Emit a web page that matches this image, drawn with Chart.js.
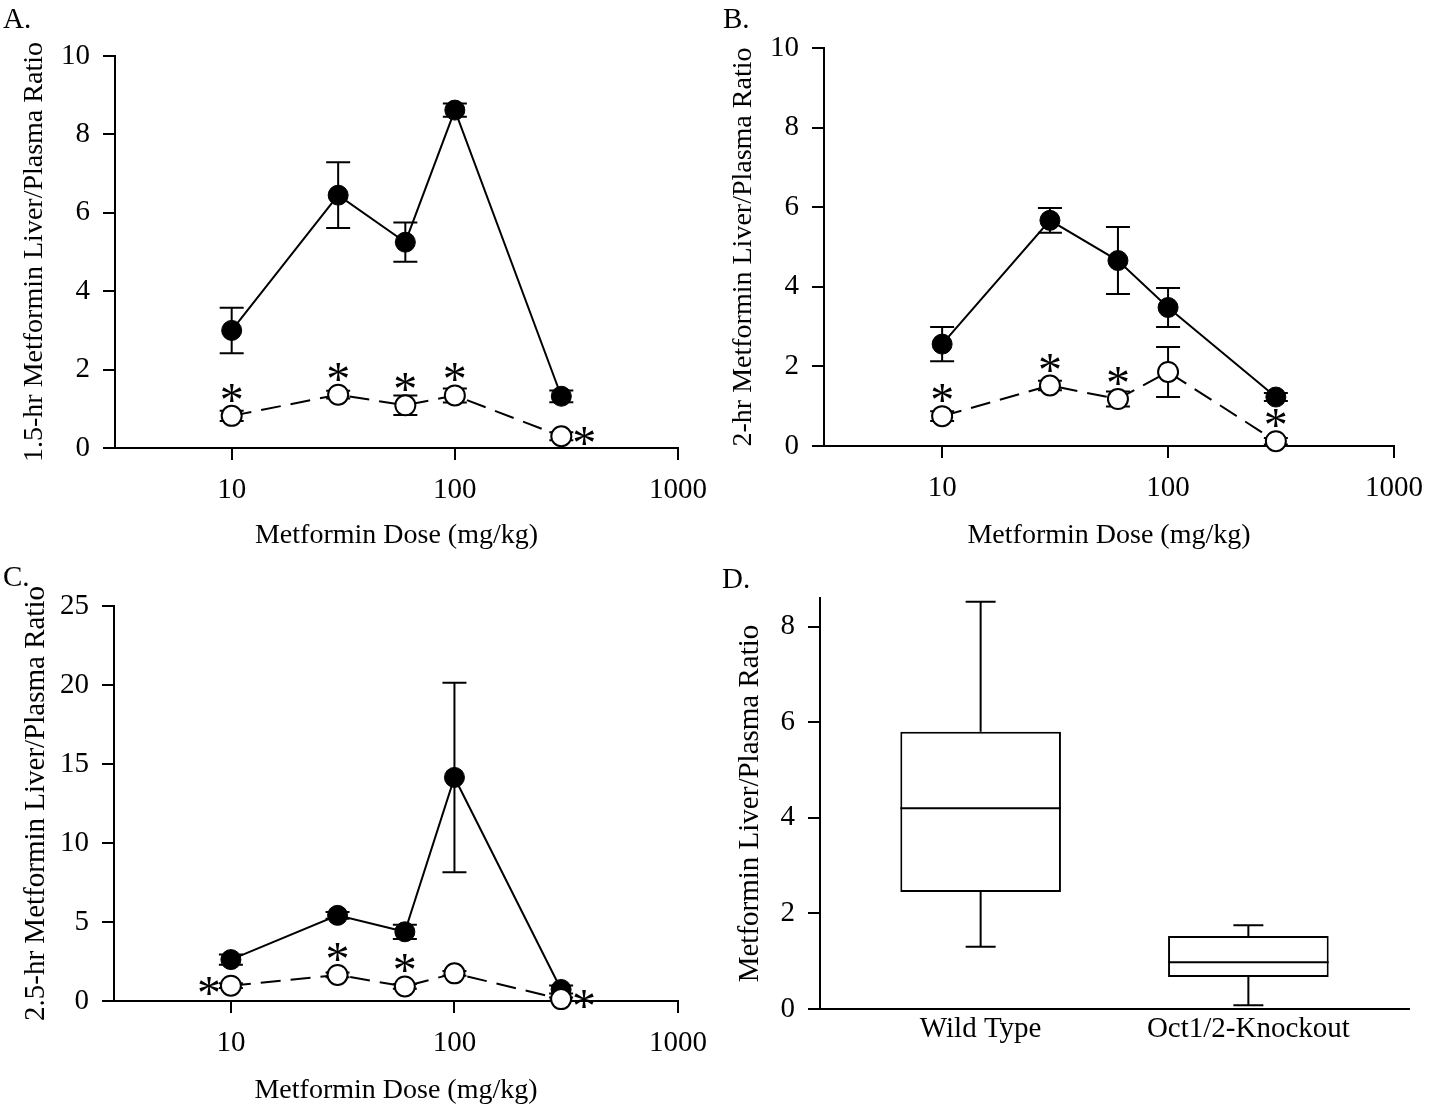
<!DOCTYPE html>
<html>
<head>
<meta charset="utf-8">
<script src="https://cdn.jsdelivr.net/npm/chart.js@4.4.1/dist/chart.umd.min.js"></script>
<style>
  body { margin: 0; background: #fff; }
  #page { position: relative; width: 1440px; height: 1111px; font-family: "Liberation Serif", "Times New Roman", serif; color: #000; }
  .panel { position: absolute; }
  .tag { position: absolute; font-size: 29px; line-height: 29px; }
</style>
</head>
<body>
<div id="page">
  <div class="panel" style="left:0;top:0;width:720px;height:560px"><canvas id="chartA"></canvas></div>
  <div class="panel" style="left:720px;top:0;width:720px;height:560px"><canvas id="chartB"></canvas></div>
  <div class="panel" style="left:0;top:560px;width:720px;height:551px"><canvas id="chartC"></canvas></div>
  <div class="panel" style="left:720px;top:560px;width:720px;height:551px"><canvas id="chartD"></canvas></div>
  <div class="tag" style="left:3px;top:4px">A.</div>
  <div class="tag" style="left:723px;top:4px">B.</div>
  <div class="tag" style="left:3px;top:562px">C.</div>
  <div class="tag" style="left:722px;top:564px">D.</div>
</div>
<script>
// doses (mg/kg) shared by panels A-C
const doses = [10, 30, 60, 100, 300];
const xTicks = [10, 100, 1000];

// A: 1.5 hr
const wildA = [3.0, 6.45, 5.25, 8.62, 1.32];
const wildErrA = [0.58, 0.84, 0.5, 0.17, 0.15];
const koA = [0.82, 1.36, 1.09, 1.34, 0.3];
const koErrA = [0.13, 0.1, 0.25, 0.18, 0.1];
const starsA = ['up', 'up', 'up', 'up', 'right'];

// B: 2 hr
const wildB = [2.56, 5.67, 4.66, 3.48, 1.23];
const wildErrB = [0.43, 0.31, 0.84, 0.49, 0.1];
const koB = [0.75, 1.52, 1.18, 1.86, 0.12];
const koErrB = [0.12, 0.12, 0.19, 0.63, 0.08];
const starsB = ['up', 'up', 'up', '', 'up'];

// C: 2.5 hr
const wildC = [2.62, 5.42, 4.38, 14.15, 0.73];
const wildErrC = [0.32, 0.22, 0.45, 6.0, 0.25];
const koC = [0.97, 1.65, 0.92, 1.75, 0.12];
const koErrC = [0.15, 0.15, 0.15, 0.15, 0.1];
const starsC = ['left', 'up', 'up', '', 'right'];

// D: box plot
const groups = ['Wild Type', 'Oct1/2-Knockout'];
const boxLow = [1.30, 0.08];
const boxQ1 = [2.45, 0.67];
const boxMed = [4.20, 0.98];
const boxQ3 = [5.80, 1.53];
const boxHigh = [8.52, 1.75];
const yTicksD = [0, 2, 4, 6, 8];

Chart.defaults.font.family = '"Liberation Serif", "Times New Roman", serif';
Chart.defaults.color = '#000';

const errorBars = {
  id: 'errorBars',
  beforeDatasetsDraw(chart) {
    const ctx = chart.ctx, ys = chart.scales.y;
    chart.data.datasets.forEach((ds, i) => {
      if (!ds.errors) return;
      const meta = chart.getDatasetMeta(i);
      ctx.save();
      ctx.strokeStyle = '#000';
      ctx.lineWidth = 2;
      meta.data.forEach((pt, j) => {
        const v = ds.data[j].y, e = ds.errors[j];
        const top = ys.getPixelForValue(v + e), bot = ys.getPixelForValue(v - e);
        ctx.beginPath();
        ctx.moveTo(pt.x, top); ctx.lineTo(pt.x, bot);
        ctx.moveTo(pt.x - 12, top); ctx.lineTo(pt.x + 12, top);
        ctx.moveTo(pt.x - 12, bot); ctx.lineTo(pt.x + 12, bot);
        ctx.stroke();
      });
      ctx.restore();
    });
  }
};

const asterisks = {
  id: 'asterisks',
  afterDatasetsDraw(chart) {
    const ctx = chart.ctx;
    chart.data.datasets.forEach((ds, i) => {
      if (!ds.stars) return;
      const meta = chart.getDatasetMeta(i);
      ctx.save();
      ctx.fillStyle = '#000';
      ctx.font = '48px "Liberation Serif", "Times New Roman", serif';
      ctx.textAlign = 'left';
      ctx.textBaseline = 'alphabetic';
      const m = ctx.measureText('*');
      meta.data.forEach((pt, j) => {
        const where = ds.stars[j];
        if (!where) return;
        let cx = pt.x, cy = pt.y;
        if (where === 'up') cy -= 23;
        if (where === 'right') cx += 23;
        if (where === 'left') cx -= 22;
        const bx = cx - (m.actualBoundingBoxRight - m.actualBoundingBoxLeft) / 2;
        const by = cy + (m.actualBoundingBoxAscent - m.actualBoundingBoxDescent) / 2;
        ctx.fillText('*', bx, by);
      });
      ctx.restore();
    });
  }
};

function doseChart(id, p) {
  const pts = vals => doses.map((d, i) => ({ x: d, y: vals[i] }));
  return new Chart(document.getElementById(id), {
    type: 'line',
    data: {
      datasets: [
        {
          label: 'Wild Type',
          data: pts(p.wild),
          errors: p.wildErr,
          borderColor: '#000',
          borderWidth: 2,
          pointRadius: 10,
          pointBackgroundColor: '#000',
          pointBorderColor: '#000',
          pointBorderWidth: 1,
          tension: 0,
          clip: false,
          order: 1
        },
        {
          label: 'Oct1/2-Knockout',
          data: pts(p.ko),
          errors: p.koErr,
          stars: p.stars,
          borderColor: '#000',
          borderWidth: 2,
          borderDash: [20, 10],
          pointRadius: 10,
          pointBackgroundColor: '#fff',
          pointBorderColor: '#000',
          pointBorderWidth: 2,
          tension: 0,
          clip: false,
          order: 0
        }
      ]
    },
    options: {
      responsive: true,
      maintainAspectRatio: false,
      animation: false,
      layout: { padding: { left: 0, top: p.top, right: p.right, bottom: 0 } },
      plugins: { legend: { display: false }, tooltip: { enabled: false } },
      scales: {
        x: {
          type: 'logarithmic',
          min: 3,
          max: 1000,
          afterBuildTicks: s => { s.ticks = xTicks.map(v => ({ value: v })); },
          afterFit: s => { s.height = p.xh; },
          ticks: { font: { size: 29 }, padding: 13, maxRotation: 0, callback: v => String(v) },
          grid: { drawOnChartArea: false, drawTicks: true, tickLength: 12, color: '#000', lineWidth: 2 },
          border: { display: true, color: '#000', width: 2 },
          title: { display: true, text: 'Metformin Dose (mg/kg)', font: { size: 28 }, padding: { top: 0, bottom: p.xtPad } }
        },
        y: {
          min: 0,
          max: p.yMax,
          ticks: { stepSize: p.yStep, font: { size: 29 }, padding: 13 },
          afterFit: s => { s.width = p.yw; },
          grid: { drawOnChartArea: false, drawTicks: true, tickLength: 12, color: '#000', lineWidth: 2 },
          border: { display: true, color: '#000', width: 2 },
          title: { display: true, text: p.yTitle, font: { size: p.ytSize }, padding: { top: p.ytPad, bottom: 0 } }
        }
      }
    },
    plugins: [errorBars, asterisks]
  });
}

doseChart('chartA', {
  wild: wildA, wildErr: wildErrA, ko: koA, koErr: koErrA, stars: starsA,
  yMax: 10, yStep: 2, yTitle: '1.5-hr Metformin Liver/Plasma Ratio', ytSize: 28, ytPad: 18,
  top: 56, right: 42, yw: 115, xh: 112, xtPad: 8
});
doseChart('chartB', {
  wild: wildB, wildErr: wildErrB, ko: koB, koErr: koErrB, stars: starsB,
  yMax: 10, yStep: 2, yTitle: '2-hr Metformin Liver/Plasma Ratio', ytSize: 28, ytPad: 7,
  top: 48, right: 46, yw: 104, xh: 114, xtPad: 8
});
doseChart('chartC', {
  wild: wildC, wildErr: wildErrC, ko: koC, koErr: koErrC, stars: starsC,
  yMax: 25, yStep: 5, yTitle: '2.5-hr Metformin Liver/Plasma Ratio', ytSize: 29, ytPad: 19,
  top: 46, right: 33, yw: 114, xh: 110, xtPad: 4
});

const boxParts = {
  id: 'boxParts',
  afterDatasetsDraw(chart) {
    const ctx = chart.ctx, ys = chart.scales.y;
    const meta = chart.getDatasetMeta(0);
    ctx.save();
    ctx.strokeStyle = '#000';
    ctx.lineWidth = 2;
    meta.data.forEach((bar, i) => {
      const x = bar.x, hw = bar.width / 2;
      const med = ys.getPixelForValue(boxMed[i]);
      const q1 = ys.getPixelForValue(boxQ1[i]), q3 = ys.getPixelForValue(boxQ3[i]);
      const lo = ys.getPixelForValue(boxLow[i]), hi = ys.getPixelForValue(boxHigh[i]);
      ctx.beginPath();
      ctx.moveTo(x - hw, med); ctx.lineTo(x + hw, med);
      ctx.moveTo(x, q3); ctx.lineTo(x, hi);
      ctx.moveTo(x - 15, hi); ctx.lineTo(x + 15, hi);
      ctx.moveTo(x, q1); ctx.lineTo(x, lo);
      ctx.moveTo(x - 15, lo); ctx.lineTo(x + 15, lo);
      ctx.stroke();
    });
    ctx.restore();
  }
};

new Chart(document.getElementById('chartD'), {
  type: 'bar',
  data: {
    datasets: [{
      label: 'Liver/Plasma Ratio',
      data: groups.map((g, i) => ({ x: i + 1, y: [boxQ1[i], boxQ3[i]] })),
      backgroundColor: '#fff',
      borderColor: '#000',
      borderWidth: 2,
      borderSkipped: false,
      barPercentage: 0.6,
      categoryPercentage: 1
    }]
  },
  options: {
    responsive: true,
    maintainAspectRatio: false,
    animation: false,
    layout: { padding: { left: 0, top: 38, right: 31, bottom: 0 } },
    plugins: { legend: { display: false }, tooltip: { enabled: false } },
    scales: {
      x: {
        type: 'linear',
        min: 0.4,
        max: 2.6,
        offset: false,
        afterBuildTicks: s => { s.ticks = groups.map((g, i) => ({ value: i + 1 })); },
        afterFit: s => { s.height = 102; },
        ticks: { font: { size: 29 }, padding: 3, maxRotation: 0, callback: v => groups[v - 1] },
        grid: { display: false, drawTicks: false },
        border: { display: true, color: '#000', width: 2 }
      },
      y: {
        min: 0,
        max: 8.6,
        afterBuildTicks: s => { s.ticks = yTicksD.map(v => ({ value: v })); },
        afterFit: s => { s.width = 100; },
        ticks: { font: { size: 29 }, padding: 13 },
        grid: { drawOnChartArea: false, drawTicks: true, tickLength: 12, color: '#000', lineWidth: 2 },
        border: { display: true, color: '#000', width: 2 },
        title: { display: true, text: 'Metformin Liver/Plasma Ratio', font: { size: 29 }, padding: { top: 13, bottom: 0 } }
      }
    }
  },
  plugins: [boxParts]
});
</script>
</body>
</html>
